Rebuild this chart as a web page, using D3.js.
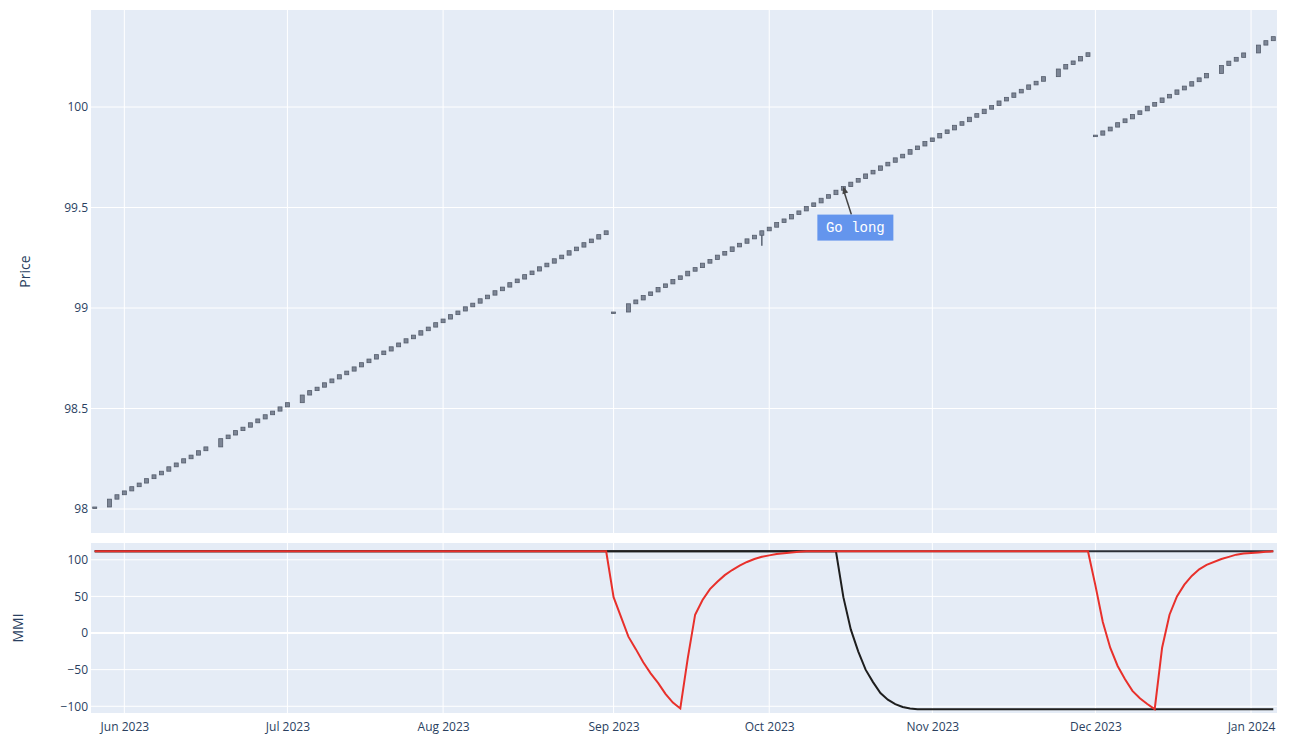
<!DOCTYPE html>
<html>
<head>
<meta charset="utf-8">
<script src="https://cdn.jsdelivr.net/npm/d3@7"></script>
<style>
  body { margin: 0; background: #fff; }
  svg { display: block; font-family: "Open Sans", Verdana, Arial, sans-serif; }
</style>
</head>
<body>
<div id="chart"></div>
<script>
// contract segments (first / last trading day) and exchange holidays
const segments = [["2023-05-26", "2023-08-31"], ["2023-09-01", "2023-11-30"], ["2023-12-01", "2024-01-04"]];
const holidays = ["2023-05-29", "2023-06-19", "2023-07-04", "2023-09-04", "2023-11-23", "2023-12-25", "2024-01-01"];

const closes1 = [98.010, 98.049, 98.071,
  98.090, 98.111, 98.129, 98.151, 98.170, 98.188, 98.210, 98.229, 98.250, 98.268, 98.290, 98.309, 98.350, 98.368, 98.390, 98.407, 98.429, 98.448, 98.469, 98.487, 98.508,
  98.529, 98.567, 98.589, 98.606, 98.628, 98.647, 98.668, 98.686, 98.707, 98.728, 98.746, 98.768, 98.786, 98.807, 98.826, 98.847, 98.865, 98.887, 98.905, 98.927,
  98.945, 98.967, 98.985, 99.006, 99.024, 99.046, 99.064, 99.086, 99.104, 99.126, 99.144, 99.166, 99.184, 99.205, 99.223, 99.245, 99.263, 99.285, 99.303, 99.325, 99.343, 99.365, 99.384];
const closes2 = [98.980, 99.021, 99.040, 99.062, 99.080, 99.102, 99.120, 99.142, 99.160, 99.183, 99.201, 99.223, 99.241, 99.263, 99.281, 99.304, 99.322, 99.344, 99.362, 99.384,
  99.402, 99.425, 99.443, 99.465, 99.483, 99.505, 99.523, 99.546, 99.564, 99.586, 99.604, 99.626, 99.644, 99.667, 99.685, 99.707, 99.725, 99.747, 99.765, 99.788, 99.806, 99.828,
  99.846, 99.868, 99.886, 99.909, 99.927, 99.949, 99.967, 99.989, 100.007, 100.030, 100.048, 100.070, 100.088, 100.110, 100.128, 100.151, 100.189, 100.211, 100.229, 100.251, 100.270];
const closes3 = [99.860, 99.881, 99.900, 99.922, 99.941, 99.963, 99.981, 100.004, 100.022, 100.045, 100.063, 100.085, 100.104, 100.126, 100.145, 100.167, 100.206, 100.228, 100.247, 100.269,
  100.308, 100.330, 100.350];
const wickLows = [["2023-09-29", 99.31]];

// MMI lines: [date, value]
const mmiFlat = [["2023-05-26", 111.5], ["2024-01-04", 111.5]];
const mmiBlack = [["2023-05-26", 111.5], ["2023-10-13", 111.5], ["2023-10-16", 49], ["2023-10-17", 5], ["2023-10-18", -25],
  ["2023-10-19", -50], ["2023-10-20", -67], ["2023-10-23", -82], ["2023-10-24", -91], ["2023-10-25", -97], ["2023-10-26", -101],
  ["2023-10-27", -103], ["2023-10-30", -104], ["2024-01-04", -104]];
const mmiRed = [["2023-05-26", 111.5], ["2023-08-31", 111.5], ["2023-09-01", 49], ["2023-09-05", -5], ["2023-09-06", -22],
  ["2023-09-07", -40], ["2023-09-08", -55], ["2023-09-11", -68], ["2023-09-12", -83], ["2023-09-13", -95], ["2023-09-14", -103],
  ["2023-09-15", -35], ["2023-09-18", 25], ["2023-09-19", 45], ["2023-09-20", 60], ["2023-09-21", 70], ["2023-09-22", 79],
  ["2023-09-25", 86], ["2023-09-26", 92], ["2023-09-27", 97], ["2023-09-28", 101], ["2023-09-29", 104], ["2023-10-02", 106],
  ["2023-10-03", 108], ["2023-10-04", 109], ["2023-10-05", 110], ["2023-10-06", 110.8], ["2023-10-09", 111.5],
  ["2023-11-30", 111.5], ["2023-12-01", 65], ["2023-12-04", 15], ["2023-12-05", -20], ["2023-12-06", -45], ["2023-12-07", -63],
  ["2023-12-08", -79], ["2023-12-11", -89], ["2023-12-12", -97], ["2023-12-13", -104], ["2023-12-14", -20], ["2023-12-15", 25],
  ["2023-12-18", 50], ["2023-12-19", 66], ["2023-12-20", 78], ["2023-12-21", 87], ["2023-12-22", 93], ["2023-12-26", 101],
  ["2023-12-27", 104], ["2023-12-28", 107], ["2023-12-29", 108.5], ["2024-01-02", 110], ["2024-01-03", 110.8], ["2024-01-04", 111.5]];

const annotation = { date: "2023-10-16", text: "Go long" };
const priceTicks = [98, 98.5, 99, 99.5, 100];
const mmiTicks = [-100, -50, 0, 50, 100];

const width = 1289, height = 739;
const left = 91, right = 1277;
const top1 = 10, bottom1 = 533, top2 = 543, bottom2 = 713;

const parse = d3.utcParse("%Y-%m-%d");
const base = parse("2023-06-01");
const isWeekday = d => d.getUTCDay() !== 0 && d.getUTCDay() !== 6;

// weekend rangebreaks: position = count of weekdays from base
function tradeIndex(d) {
  if (d >= base) return d3.utcDay.range(base, d).filter(isWeekday).length;
  return -d3.utcDay.range(d, base).filter(isWeekday).length;
}

const holidaySet = new Set(holidays);
const closesBySeg = [closes1, closes2, closes3];
let candles = [];
segments.forEach(function (seg, s) {
  const days = d3.utcDay.range(parse(seg[0]), d3.utcDay.offset(parse(seg[1]), 1))
    .filter(d => isWeekday(d) && !holidaySet.has(d3.utcFormat("%Y-%m-%d")(d)));
  const cl = closesBySeg[s];
  if (days.length !== cl.length) console.warn("segment", s, days.length, cl.length);
  days.forEach(function (d, i) {
    candles.push({ date: d, close: cl[i], open: i > 0 ? cl[i - 1] : cl[i] });
  });
});

const x = d3.scaleLinear().domain([-4.5, 155.5]).range([left, right]);
const y1 = d3.scaleLinear().domain([97.8806, 100.4826]).range([bottom1, top1]);
const y2 = d3.scaleLinear().domain([-109.2, 122.9]).range([bottom2, top2]);
const xd = d => x(tradeIndex(d));

const svg = d3.select("#chart").append("svg")
  .attr("width", width).attr("height", height);

// panels
svg.append("rect").attr("x", left).attr("y", top1).attr("width", right - left).attr("height", bottom1 - top1).attr("fill", "#E5ECF6");
svg.append("rect").attr("x", left).attr("y", top2).attr("width", right - left).attr("height", bottom2 - top2).attr("fill", "#E5ECF6");

const months = d3.utcMonth.range(parse("2023-06-01"), parse("2024-01-02"));
const monthIdx = months.map(tradeIndex);

[[top1, bottom1], [top2, bottom2]].forEach(function (p) {
  svg.append("g").selectAll("line").data(monthIdx).enter().append("line")
    .attr("x1", d => x(d)).attr("x2", d => x(d))
    .attr("y1", p[0]).attr("y2", p[1])
    .attr("stroke", "#fff").attr("stroke-width", 1);
});

svg.append("g").selectAll("line").data(priceTicks).enter().append("line")
  .attr("x1", left).attr("x2", right)
  .attr("y1", d => y1(d)).attr("y2", d => y1(d))
  .attr("stroke", "#fff").attr("stroke-width", 1);

svg.append("g").selectAll("line").data(mmiTicks).enter().append("line")
  .attr("x1", left).attr("x2", right)
  .attr("y1", d => y2(d)).attr("y2", d => y2(d))
  .attr("stroke", "#fff").attr("stroke-width", d => d === 0 ? 2 : 1);

// axes
const tickColor = "#2a3f5f";
const yAxis1 = svg.append("g").attr("transform", `translate(${left},0)`)
  .call(d3.axisLeft(y1).tickValues(priceTicks).tickFormat(d3.format("")).tickSize(0).tickPadding(3));
const yAxis2 = svg.append("g").attr("transform", `translate(${left},0)`)
  .call(d3.axisLeft(y2).tickValues(mmiTicks).tickFormat(d3.format("")).tickSize(0).tickPadding(3));
const monthFmt = d3.utcFormat("%b %Y");
const xAxis = svg.append("g").attr("transform", `translate(0,${bottom2})`)
  .call(d3.axisBottom(x).tickValues(monthIdx).tickFormat((d, i) => monthFmt(months[i])).tickSize(0).tickPadding(9));
[yAxis1, yAxis2, xAxis].forEach(function (g) {
  g.select(".domain").remove();
  g.selectAll("text").attr("fill", tickColor).style("font-size", "12px").style("font-family", "\"Open Sans\", Verdana, Arial, sans-serif");
});

svg.append("text").attr("transform", `translate(25,${(top1 + bottom1) / 2}) rotate(-90)`)
  .attr("text-anchor", "middle").attr("dy", "0.35em")
  .attr("fill", tickColor).style("font-size", "14px").text("Price");
svg.append("text").attr("transform", `translate(18,${(top2 + bottom2) / 2}) rotate(-90)`)
  .attr("text-anchor", "middle").attr("dy", "0.35em")
  .attr("fill", tickColor).style("font-size", "14px").text("MMI");

// candles
const candleG = svg.append("g");
candleG.selectAll(".wick").data(wickLows).enter().append("line")
  .attr("x1", d => xd(parse(d[0]))).attr("x2", d => xd(parse(d[0])))
  .attr("y1", d => y1(candles.find(c => +c.date === +parse(d[0])).close))
  .attr("y2", d => y1(d[1]))
  .attr("stroke", "#5b6372").attr("stroke-width", 1.5);
candleG.selectAll(".candle").data(candles).enter().append("rect")
  .attr("class", "candle")
  .attr("x", d => xd(d.date) - 2)
  .attr("y", d => y1(Math.max(d.open, d.close)))
  .attr("width", 4)
  .attr("height", d => Math.max(1.5, Math.abs(y1(d.open) - y1(d.close))))
  .attr("fill", "#7d8696").attr("stroke", "#545c6b").attr("stroke-width", 0.8);

// MMI lines
const line = d3.line().x(d => xd(parse(d[0]))).y(d => y2(d[1]));
const lineG = svg.append("g").attr("fill", "none").attr("stroke-width", 2);
lineG.append("path").datum(mmiFlat).attr("d", line).attr("stroke", "#2b2f36");
lineG.append("path").datum(mmiBlack).attr("d", line).attr("stroke", "#1e1e1e");
lineG.append("path").datum(mmiRed).attr("d", line).attr("stroke", "#e8302b");

// annotation
const ac = candles.find(c => +c.date === +parse(annotation.date));
const ax = xd(ac.date), ay = y1(ac.close);
const bx = ax + 12, by = ay + 41;
const ann = svg.append("g");
ann.append("line").attr("x1", ax).attr("y1", ay + 3).attr("x2", bx - 4).attr("y2", by - 13)
  .attr("stroke", "#444").attr("stroke-width", 1.5);
ann.append("path")
  .attr("d", `M${ax},${ay} l-3,7 l6,0 z`)
  .attr("transform", `rotate(-16,${ax},${ay})`)
  .attr("fill", "#444");
ann.append("rect").attr("x", bx - 38).attr("y", by - 13).attr("width", 76).attr("height", 26)
  .attr("fill", "#6495ED");
ann.append("text").attr("x", bx).attr("y", by).attr("dy", "0.35em")
  .attr("text-anchor", "middle").attr("fill", "#fff")
  .style("font-family", "\"Liberation Mono\", \"DejaVu Sans Mono\", monospace")
  .style("font-size", "14px").text(annotation.text);
</script>
</body>
</html>
